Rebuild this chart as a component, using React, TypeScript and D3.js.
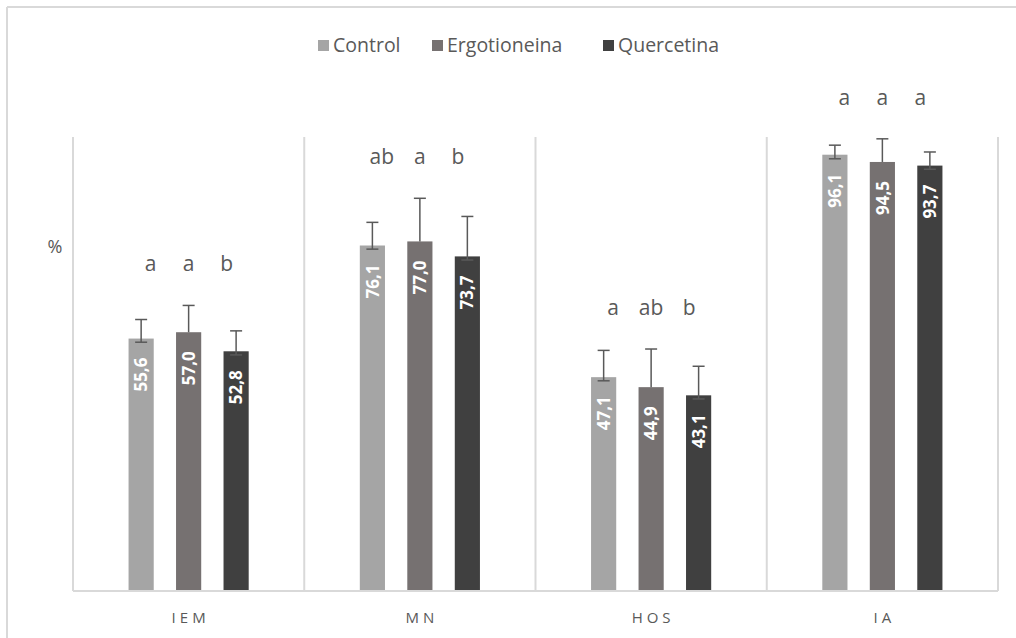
import * as d3 from 'd3'

const categories = ['IEM', 'MN', 'HOS', 'IA']
const seriesNames = ['Control', 'Ergotioneina', 'Quercetina']
const seriesColors = ['#a5a5a5', '#767171', '#404040']

// values per series, in category order
const control = [55.6, 76.1, 47.1, 96.1]
const ergotioneina = [57.0, 77.0, 44.9, 94.5]
const quercetina = [52.8, 73.7, 43.1, 93.7]

// error bars (upper / lower)
const controlErrUp = [4.2, 5.1, 5.9, 2.1]
const ergotioneinaErrUp = [5.9, 9.5, 8.4, 5.1]
const quercetinaErrUp = [4.5, 8.8, 6.4, 3.0]
const controlErrDown = [0.8, 0.8, 0.8, 0.9]
const ergotioneinaErrDown = [0, 0, 0, 0]
const quercetinaErrDown = [0.8, 0.8, 0.8, 0.8]

// significance letters
const controlLetters = ['a', 'ab', 'a', 'a']
const ergotioneinaLetters = ['a', 'a', 'ab', 'a']
const quercetinaLetters = ['b', 'b', 'b', 'a']

const yLabel = '%'

const values = [control, ergotioneina, quercetina]
const errUp = [controlErrUp, ergotioneinaErrUp, quercetinaErrUp]
const errDown = [controlErrDown, ergotioneinaErrDown, quercetinaErrDown]
const letters = [controlLetters, ergotioneinaLetters, quercetinaLetters]

const W = 1016
const H = 638
const margin = { top: 137, right: 18, bottom: 47, left: 73 }
const font = '"Open Sans", "Noto Sans", sans-serif'
const textColor = '#595959'
const gridColor = '#d9d9d9'

export default function App() {
  const x0 = d3
    .scaleBand()
    .domain(categories)
    .range([margin.left, W - margin.right])
    .padding(0)
  const x1 = d3
    .scaleBand()
    .domain(seriesNames)
    .range([0, x0.bandwidth()])
    .paddingInner(0.47)
    .paddingOuter(1.17)
  const y = d3
    .scaleLinear()
    .domain([0, 100])
    .range([H - margin.bottom, margin.top])

  const bw = x1.bandwidth()
  const capHalf = 6

  // legend layout
  const legendX = [318, 432, 603]

  return (
    <svg
      width={W}
      height={H}
      style={{ position: 'absolute', left: 0, top: 0, background: '#fff' }}
      fontFamily={font}
    >
      {/* chart border (cropped: top + left only) */}
      <line x1={7} x2={W} y1={7} y2={7} stroke={gridColor} strokeWidth={2} />
      <line x1={7} x2={7} y1={7} y2={H} stroke={gridColor} strokeWidth={2} />

      {/* legend */}
      {seriesNames.map((name, i) => (
        <g key={name} transform={`translate(${legendX[i]}, 45)`}>
          <rect x={0} y={-5} width={11} height={11} fill={seriesColors[i]} />
          <text x={15} y={0} dy="0.35em" fontSize={19.5} fill={textColor}>
            {name}
          </text>
        </g>
      ))}

      {/* y label */}
      <text x={55} y={247} textAnchor="middle" dy="0.35em" fontSize={18} fill={textColor}>
        {yLabel}
      </text>

      {/* category separators */}
      {categories.map((c) => (
        <line
          key={`sep-${c}`}
          x1={x0(c)!}
          x2={x0(c)!}
          y1={y(100)}
          y2={y(0)}
          stroke={gridColor}
          strokeWidth={2}
        />
      ))}
      <line
        x1={W - margin.right}
        x2={W - margin.right}
        y1={y(100)}
        y2={y(0)}
        stroke={gridColor}
        strokeWidth={2}
      />

      {/* bars */}
      {categories.map((c, ci) => {
        const bandCenter = x0(c)! + x0.bandwidth() / 2
        const tops = seriesNames.map((_, si) => y(values[si][ci] + errUp[si][ci]))
        const letterY = Math.min(...tops) - 34
        return (
          <g key={c}>
            {seriesNames.map((s, si) => {
              const v = values[si][ci]
              const bx = x0(c)! + x1(s)!
              const cx = bx + bw / 2
              const yTop = y(v)
              const eUp = y(v + errUp[si][ci])
              const eDown = y(v - errDown[si][ci])
              const lx = bandCenter + (cx - bandCenter) * 0.8
              return (
                <g key={s}>
                  <rect x={bx} y={yTop} width={bw} height={y(0) - yTop} fill={seriesColors[si]} />
                  <line x1={cx} x2={cx} y1={eUp} y2={eDown} stroke="#595959" strokeWidth={1.5} />
                  <line x1={cx - capHalf} x2={cx + capHalf} y1={eUp} y2={eUp} stroke="#595959" strokeWidth={1.5} />
                  {errDown[si][ci] > 0 && (
                    <line
                      x1={cx - capHalf}
                      x2={cx + capHalf}
                      y1={eDown}
                      y2={eDown}
                      stroke="#595959"
                      strokeWidth={1.5}
                    />
                  )}
                  <text
                    transform={`translate(${cx}, ${yTop + 19}) rotate(-90)`}
                    textAnchor="end"
                    dy="0.36em"
                    fontSize={17}
                    fontWeight="bold"
                    fill="#fff"
                  >
                    {v.toFixed(1).replace('.', ',')}
                  </text>
                  <text x={lx} y={letterY} textAnchor="middle" fontSize={21} fill={textColor}>
                    {letters[si][ci]}
                  </text>
                </g>
              )
            })}
          </g>
        )
      })}

      {/* baseline */}
      <line
        x1={margin.left}
        x2={W - margin.right}
        y1={y(0)}
        y2={y(0)}
        stroke={gridColor}
        strokeWidth={2}
      />

      {/* category labels */}
      {categories.map((c) => (
        <text
          key={`lab-${c}`}
          x={x0(c)! + x0.bandwidth() / 2 + 2}
          y={623}
          textAnchor="middle"
          fontSize={15}
          letterSpacing={4}
          fill={textColor}
        >
          {c}
        </text>
      ))}
    </svg>
  )
}
